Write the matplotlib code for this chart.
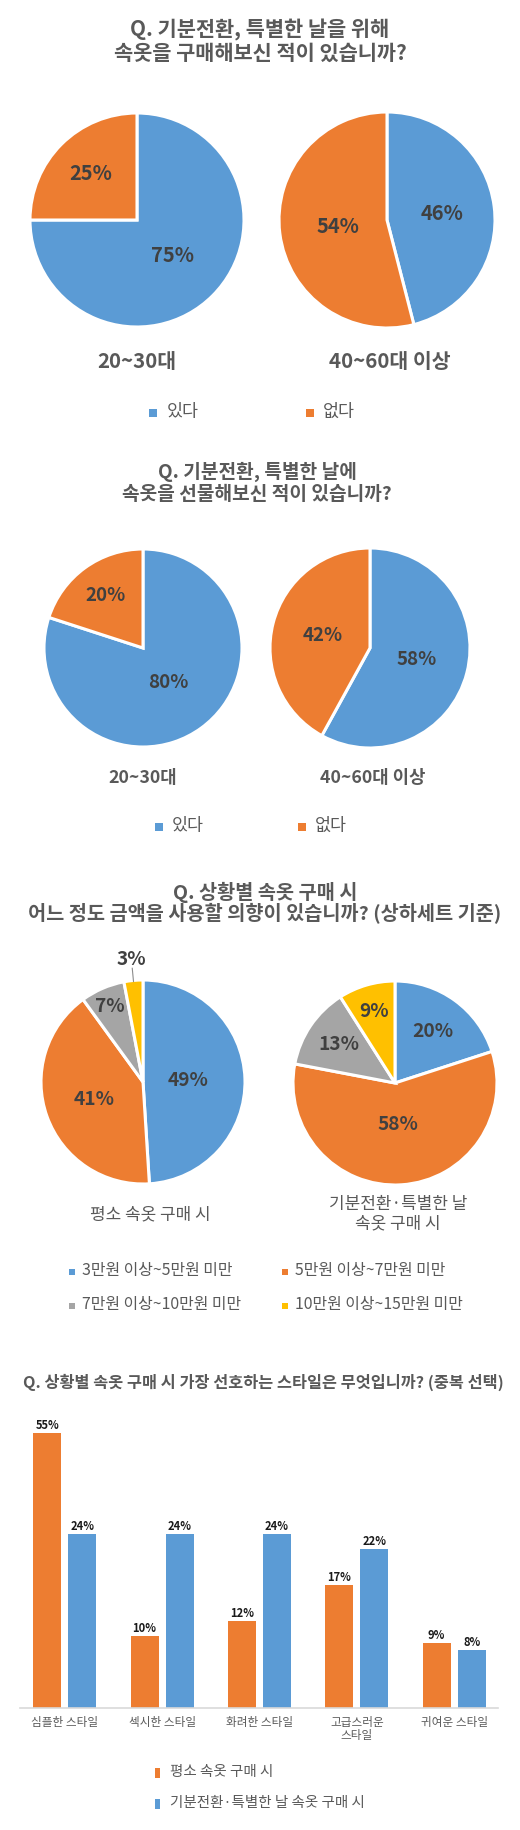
import matplotlib
matplotlib.use('Agg')
import matplotlib.pyplot as plt
from matplotlib.patches import Rectangle
import numpy as np

plt.rcParams['font.family'] = ['Noto Sans CJK KR', 'DejaVu Sans']

# ---------------- data ----------------
q1_title = ['Q. 기분전환, 특별한 날을 위해', '속옷을 구매해보신 적이 있습니까?']
q2_title = ['Q. 기분전환, 특별한 날에', '속옷을 선물해보신 적이 있습니까?']
q3_title = ['Q. 상황별 속옷 구매 시', '어느 정도 금액을 사용할 의향이 있습니까? (상하세트 기준)']
q4_title = 'Q. 상황별 속옷 구매 시 가장 선호하는 스타일은 무엇입니까? (중복 선택)'

age_groups = ['20~30대', '40~60대 이상']
yes_no = ['있다', '없다']
q1_yes = [75, 46]
q1_no = [25, 54]
q2_yes = [80, 58]
q2_no = [20, 42]

q3_situations = ['평소 속옷 구매 시', '기분전환·특별한 날\n속옷 구매 시']
price_ranges = ['3만원 이상~5만원 미만', '5만원 이상~7만원 미만',
                '7만원 이상~10만원 미만', '10만원 이상~15만원 미만']
q3_regular = [49, 41, 7, 3]
q3_special = [20, 58, 13, 9]

styles = ['심플한 스타일', '섹시한 스타일', '화려한 스타일', '고급스러운\n스타일', '귀여운 스타일']
q4_series = ['평소 속옷 구매 시', '기분전환·특별한 날 속옷 구매 시']
q4_regular = [55, 10, 12, 17, 9]
q4_special = [24, 24, 24, 22, 8]

# ---------------- style ----------------
W, H = 520, 1830
BLUE = '#5B9BD5'
ORANGE = '#ED7D31'
GRAY = '#A5A5A5'
YELLOW = '#FFC000'
TXT = '#595959'
DARK = '#404040'

fig = plt.figure(figsize=(W / 100, H / 100), dpi=100)
fig.patch.set_facecolor('white')
_r = fig.canvas.get_renderer()


def fit_size(s, target_px, weight='normal', base=12.0):
    """font size whose rendered width equals target_px"""
    t = fig.text(0, 0, s, fontsize=base, fontweight=weight)
    w = t.get_window_extent(renderer=_r).width
    t.remove()
    return base * target_px / w


def ftext(x, y, s, **kw):
    kw.setdefault('color', TXT)
    kw.setdefault('ha', 'center')
    kw.setdefault('va', 'center')
    fig.text(x / W, 1 - y / H, s, **kw)


def fbox(cx, cy, w, h, color):
    fig.add_artist(Rectangle(((cx - w / 2) / W, 1 - (cy + h / 2) / H), w / W, h / H,
                             transform=fig.transFigure, facecolor=color,
                             edgecolor='none'))


def draw_pie(cx, cy, r, values, colors, dists, fs):
    s = 1.45
    ax = fig.add_axes([(cx - r * s) / W, 1 - (cy + r * s) / H, 2 * r * s / W, 2 * r * s / H])
    wedges, _ = ax.pie(values, colors=colors, startangle=90, counterclock=False,
                       wedgeprops=dict(edgecolor='white', linewidth=2.2))
    ax.set_xlim(-s, s)
    ax.set_ylim(-s, s)
    ax.set_aspect('equal')
    ax.axis('off')
    for w, v, d in zip(wedges, values, dists):
        th = np.deg2rad((w.theta1 + w.theta2) / 2)
        ax.text(d * np.cos(th), d * np.sin(th), f'{v}%', ha='center', va='center',
                fontsize=fs, fontweight='bold', color=DARK)
        if d > 1:
            ax.plot([0.99 * np.cos(th), 1.12 * np.cos(th)],
                    [0.99 * np.sin(th), 1.12 * np.sin(th)],
                    color='#8C8C8C', lw=0.8)
    return ax


# ================= Section 1 =================
fs = fit_size(q1_title[1], 294, 'bold')
ftext(260, 30, q1_title[0], fontsize=fs, fontweight='bold')
ftext(260, 53, q1_title[1], fontsize=fs, fontweight='bold')
pfs = fit_size('75%', 43, 'bold')
draw_pie(137, 220, 107, [q1_yes[0], q1_no[0]], [BLUE, ORANGE], [0.47, 0.61], pfs)
draw_pie(387, 220, 108, [q1_yes[1], q1_no[1]], [BLUE, ORANGE], [0.51, 0.46], pfs)
cfs = fit_size(age_groups[1], 122, 'bold')
ftext(137, 362, age_groups[0], fontsize=cfs, fontweight='bold')
ftext(390, 362, age_groups[1], fontsize=cfs, fontweight='bold')
lfs = fit_size(yes_no[0], 32)
fbox(153, 413, 8, 8, BLUE)
ftext(167, 412, yes_no[0], fontsize=lfs, ha='left')
fbox(310, 413, 8, 8, ORANGE)
ftext(323, 412, yes_no[1], fontsize=lfs, ha='left')

# ================= Section 2 =================
fs = fit_size(q2_title[1], 270, 'bold')
ftext(257, 472, q2_title[0], fontsize=fs, fontweight='bold')
ftext(257, 494, q2_title[1], fontsize=fs, fontweight='bold')
pfs = fit_size('80%', 40, 'bold')
draw_pie(143, 648, 99, [q2_yes[0], q2_no[0]], [BLUE, ORANGE], [0.43, 0.65], pfs)
draw_pie(370, 648, 100, [q2_yes[1], q2_no[1]], [BLUE, ORANGE], [0.48, 0.49], pfs)
cfs = fit_size(age_groups[0], 69, 'bold')
ftext(143, 778, age_groups[0], fontsize=cfs, fontweight='bold')
ftext(373, 778, age_groups[1], fontsize=cfs, fontweight='bold')
fbox(159, 827, 8, 8, BLUE)
ftext(172, 826, yes_no[0], fontsize=lfs, ha='left')
fbox(302, 827, 8, 8, ORANGE)
ftext(315, 826, yes_no[1], fontsize=lfs, ha='left')

# ================= Section 3 =================
fs = fit_size(q3_title[1], 474, 'bold')
ftext(265, 892, q3_title[0], fontsize=fs, fontweight='bold')
ftext(265, 914, q3_title[1], fontsize=fs, fontweight='bold')
pie_cols = [BLUE, ORANGE, GRAY, YELLOW]
pfs = fit_size('49%', 41, 'bold')
draw_pie(143, 1082, 102, q3_regular, pie_cols, [0.44, 0.51, 0.81, 1.21], pfs)
draw_pie(395, 1083, 102, q3_special, pie_cols, [0.63, 0.41, 0.67, 0.73], pfs)
cfs = fit_size(q3_situations[0], 121)
ftext(150, 1214, q3_situations[0], fontsize=cfs)
ftext(398, 1214, q3_situations[1], fontsize=cfs, linespacing=1.1)
lfs3 = fit_size(price_ranges[0], 151)
leg_pos = [(72, 1272), (285, 1272), (72, 1306), (285, 1306)]
for (lx, ly), lab, col in zip(leg_pos, price_ranges, pie_cols):
    fbox(lx, ly, 6, 6, col)
    ftext(lx + 10, ly - 1, lab, fontsize=lfs3, ha='left')

# ================= Section 4 =================
fs = fit_size(q4_title, 480, 'bold')
ftext(263, 1382, q4_title, fontsize=fs, fontweight='bold')
px_per_pct = 7.25
ax_left, ax_right, ax_bottom, ax_top = 20, 498, 1708, 1433
bax = fig.add_axes([ax_left / W, 1 - ax_bottom / H, (ax_right - ax_left) / W,
                    (ax_bottom - ax_top) / H])
x = np.arange(len(styles))
bw = 0.288
off = 0.18
ymax = (ax_bottom - ax_top) / px_per_pct
bax.bar(x - off, q4_regular, bw, color=ORANGE)
bax.bar(x + off, q4_special, bw, color=BLUE)
bax.set_xlim(-0.46, 4.45)
bax.set_ylim(0, ymax)
bfs = fit_size('24%', 24, 'bold')
for xs, vals in ((x - off, q4_regular), (x + off, q4_special)):
    for xi, v in zip(xs, vals):
        bax.annotate(f'{v}%', (xi, min(v, ymax)), xytext=(0, 0.5),
                     textcoords='offset points', ha='center', va='bottom',
                     fontsize=bfs, fontweight='bold', color='#1A1A1A',
                     annotation_clip=False)
for sp in ('left', 'right', 'top'):
    bax.spines[sp].set_visible(False)
bax.spines['bottom'].set_color('#D9D9D9')
bax.spines['bottom'].set_linewidth(1.2)
bax.set_yticks([])
bax.set_xticks(x)
tfs = fit_size(styles[0], 67)
bax.set_xticklabels(styles, fontsize=tfs, color=TXT, linespacing=0.95)
bax.tick_params(axis='x', length=0, pad=6)
bax.set_facecolor('none')

sfs = fit_size(q4_series[1], 195)
fbox(157.5, 1773, 5, 10, ORANGE)
ftext(170, 1772, q4_series[0], fontsize=sfs, ha='left')
fbox(157.5, 1804, 5, 10, BLUE)
ftext(170, 1803, q4_series[1], fontsize=sfs, ha='left')

fig.savefig('out.png', dpi=100, facecolor='white')
